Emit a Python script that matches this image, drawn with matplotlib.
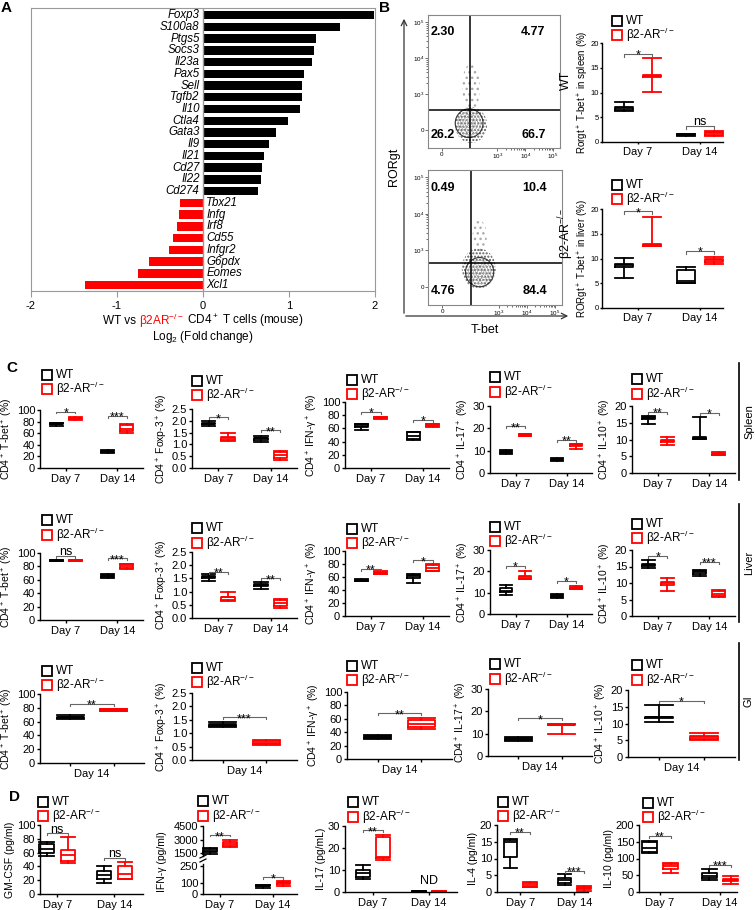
import numpy as np
import matplotlib.pyplot as plt
from matplotlib.patches import Ellipse

plt.rcParams['font.family'] = ['Liberation Sans', 'DejaVu Sans']
plt.rcParams['mathtext.fontset'] = 'custom'
plt.rcParams['mathtext.rm'] = 'Liberation Sans'
plt.rcParams['mathtext.it'] = 'Liberation Sans:italic'
plt.rcParams['mathtext.bf'] = 'Liberation Sans:bold'
plt.rcParams['axes.unicode_minus'] = False

W, H = 755, 910
RED = '#ff0000'
KO = r'β2-AR$^{-/-}$'

# ---------------- panel A: log2 fold change
genes = ['Foxp3', 'S100a8', 'Ptgs5', 'Socs3', 'Il23a', 'Pax5', 'Sell', 'Tgfb2',
         'Il10', 'Ctla4', 'Gata3', 'Il9', 'Il21', 'Cd27', 'Il22', 'Cd274',
         'Tbx21', 'Infg', 'Irf8', 'Cd55', 'Infgr2', 'G6pdx', 'Eomes', 'Xcl1']
log2fc = [1.99, 1.59, 1.31, 1.29, 1.27, 1.18, 1.15, 1.15, 1.13, 0.99, 0.85, 0.77,
          0.71, 0.69, 0.67, 0.64, -0.27, -0.28, -0.30, -0.35, -0.40, -0.63, -0.76, -1.37]

# ---------------- panel B: flow quadrants and Rorgt+ T-bet+ boxes
quad_wt = ['2.30', '4.77', '26.2', '66.7']
quad_ko = ['0.49', '10.4', '4.76', '84.4']
# box stats: (whislo, q1, med, q3, whishi); order WT d7, KO d7, WT d14, KO d14
rorgt_spleen = [(6.2, 6.5, 6.8, 7.0, 8.1), (10.2, 13.2, 13.3, 13.5, 16.9),
                (1.3, 1.4, 1.5, 1.6, 1.7), (1.2, 1.5, 1.8, 2.1, 2.2)]
rorgt_spleen_sig = [('*', 17.8), ('ns', 3.2)]
rorgt_liver = [(6.0, 8.3, 8.6, 8.9, 10.2), (12.5, 12.6, 12.8, 12.9, 18.4),
               (5.0, 5.0, 5.5, 7.7, 8.3), (8.8, 9.3, 9.6, 9.9, 10.4)]
rorgt_liver_sig = [('*', 19.5), ('*', 11.5)]

# ---------------- panel C
spleen_tbet = [(73, 75, 76, 77, 78), (82, 84, 86, 87, 87.5), (26, 27, 29, 30, 30.5), (61, 63, 68, 74, 76)]
spleen_tbet_sig = [('*', 97), ('***', 90)]
spleen_foxp3 = [(1.8, 1.85, 1.88, 1.92, 2.0), (1.15, 1.2, 1.25, 1.3, 1.48),
                (1.1, 1.2, 1.25, 1.28, 1.35), (0.35, 0.42, 0.55, 0.68, 0.7)]
spleen_foxp3_sig = [('*', 2.15), ('**', 1.6)]
spleen_ifng = [(57, 62, 64, 66, 66.5), (75, 75.5, 76, 77, 77.5), (42, 44, 48, 54, 55), (62, 63, 64, 66, 66.5)]
spleen_ifng_sig = [('*', 85), ('*', 73)]
spleen_il17 = [(8.3, 9.0, 9.5, 10.0, 10.3), (16.5, 16.7, 17.0, 17.3, 17.5),
               (5.5, 5.7, 6.0, 6.3, 6.5), (10.8, 12.0, 12.5, 13.0, 13.0)]
spleen_il17_sig = [('**', 21), ('**', 15)]
spleen_il10 = [(14.7, 16.0, 16.3, 16.7, 16.9), (8.5, 9.2, 9.7, 10.0, 10.7),
               (10.1, 10.2, 10.5, 10.7, 16.7), (5.3, 5.5, 5.8, 6.1, 6.3)]
spleen_il10_sig = [('**', 18.2), ('*', 17.9)]

liver_tbet = [(88, 88.3, 89, 89.7, 90), (88, 88.3, 89, 89.7, 90), (63, 64, 66, 67, 68), (76, 77, 80, 83, 84)]
liver_tbet_sig = [('ns', 96), ('***', 92)]
liver_foxp3 = [(1.42, 1.5, 1.55, 1.6, 1.68), (0.65, 0.7, 0.78, 0.8, 1.0),
               (1.1, 1.2, 1.25, 1.3, 1.38), (0.38, 0.45, 0.55, 0.68, 0.72)]
liver_foxp3_sig = [('**', 1.75), ('**', 1.5)]
liver_ifng = [(54, 54.5, 55, 56, 56.5), (64, 65, 66, 68, 68.5), (51, 59, 61, 63, 64), (69, 70, 74, 79, 80)]
liver_ifng_sig = [('**', 73), ('*', 86)]
liver_il17 = [(9.0, 10.5, 11.0, 12.0, 13.5), (16.3, 16.5, 17.5, 18.0, 20.3),
              (7.5, 8.0, 8.5, 9.0, 9.5), (11.5, 11.5, 12.0, 12.5, 13.0)]
liver_il17_sig = [('*', 22.5), ('*', 15.5)]
liver_il10 = [(14.5, 15.2, 15.5, 15.8, 17.0), (7.5, 9.5, 10.0, 10.2, 11.5),
              (12.2, 12.8, 13.2, 13.5, 13.8), (5.8, 6.0, 6.8, 7.5, 7.9)]
liver_il10_sig = [('*', 18.3), ('***', 16.5)]

# GI, Day 14 only: WT, KO
gi_tbet = [(64, 65, 66, 67, 69), (75, 76, 77, 78, 78.5)]
gi_tbet_sig = ('**', 86)
gi_foxp3 = [(1.25, 1.28, 1.32, 1.35, 1.4), (0.55, 0.6, 0.65, 0.72, 0.75)]
gi_foxp3_sig = ('***', 1.6)
gi_ifng = [(30, 31, 33, 35, 36), (45, 48, 52, 58, 61)]
gi_ifng_sig = ('**', 68)
gi_il17 = [(6.5, 7.0, 7.5, 8.0, 8.5), (10.0, 13.8, 14.0, 14.2, 14.5)]
gi_il17_sig = ('*', 16.8)
gi_il10 = [(10.5, 11.5, 11.8, 12.0, 15.5), (5.0, 5.5, 6.0, 6.3, 7.3)]
gi_il10_sig = ('*', 16.8)

# ---------------- panel D: cytokines (pg/ml)
gmcsf = [(55, 60, 65, 72, 76), (45, 48, 57, 64, 82), (16, 22, 28, 33, 40), (22, 22, 29, 40, 46)]
gmcsf_sig = [('ns', 88), ('ns', 52)]
ifng_d7 = [(1400, 1600, 1800, 2000, 2100), (2200, 2300, 2500, 2700, 3000)]
ifng_d14 = [(50, 70, 75, 80, 85), (70, 92, 100, 110, 115)]
ifng_sig = [('**', 3500), ('*', 150)]
il17_d = [(6.0, 7.0, 8.5, 10.0, 12.5), (14.5, 15.5, 16.0, 25.0, 26.0),
          (0.1, 0.1, 0.2, 0.3, 0.3), (0.1, 0.1, 0.2, 0.3, 0.3)]
il17_d_sig = [('**', 28)]
il4_d = [(7.2, 10.3, 14.8, 15.5, 15.8), (1.4, 1.5, 2.0, 2.8, 2.9), (2.2, 2.8, 3.5, 4.3, 5.3), (0.3, 1.0, 1.3, 1.6, 1.8)]
il4_d_sig = [('**', 18), ('***', 6.3)]
il10_d = [(115, 118, 130, 150, 152), (58, 68, 78, 85, 88), (36, 42, 48, 58, 68), (25, 32, 35, 38, 48)]
il10_d_sig = [('**', 168), ('***', 82)]

fig = plt.figure(figsize=(W / 100, H / 100), dpi=100)
ov = fig.add_axes([0, 0, 1, 1], zorder=10)
ov.set_xlim(0, W)
ov.set_ylim(H, 0)
ov.axis('off')


def px_axes(l, t, r, b):
    return fig.add_axes([l / W, 1 - b / H, (r - l) / W, (b - t) / H])


def draw_boxes(ax, stats, pos, width, lw=1.3):
    cols = ['k', RED] * (len(stats) // 2)
    for s, p, c in zip(stats, pos, cols):
        lo, q1, med, q3, hi = s
        d = dict(whislo=lo, q1=q1, med=med, q3=q3, whishi=hi, fliers=[])
        art = ax.bxp([d], positions=[p], widths=width, capwidths=width, showfliers=False,
                     boxprops=dict(color=c, lw=lw), whiskerprops=dict(color=c, lw=lw),
                     capprops=dict(color=c, lw=lw), medianprops=dict(color=c, lw=lw),
                     manage_ticks=False)
        for k in art.values():
            for a in k:
                a.set_clip_on(False)


def sig(ax, x1, x2, y, txt, drop, fs=9):
    ax.plot([x1, x1, x2, x2], [y - drop, y, y, y - drop], color='#666666', lw=0.8, clip_on=False)
    off = 0.5 if txt == 'ns' else -3.5
    ax.annotate(txt, xy=((x1 + x2) / 2, y), xytext=(0, off), textcoords='offset points',
                ha='center', va='baseline', fontsize=fs, annotation_clip=False)


def style(ax, yticks, ylabel, fmt='{:g}', lab_fs=8, ylab_fs=7.5, tick_len=2.5, lpad=1, tpad=1):
    for s in ['top', 'right']:
        ax.spines[s].set_visible(False)
    for s in ['left', 'bottom']:
        ax.spines[s].set_linewidth(1.0)
    ax.set_ylim(yticks[0], yticks[-1])
    ax.set_yticks(yticks)
    ax.set_yticklabels([fmt.format(v) for v in yticks])
    ax.tick_params(length=tick_len, width=1, labelsize=lab_fs, pad=tpad)
    ax.tick_params(axis='x', labelsize=8, pad=2)
    if ylabel:
        ax.set_ylabel(ylabel, fontsize=ylab_fs, labelpad=lpad)


def legend(x, y1, y2, fs=8.5):
    for yy, col, lab in [(y1, 'k', 'WT'), (y2, RED, KO)]:
        ov.plot([x], [yy], marker='s', ms=6.5, mfc='none', mec=col, mew=1.3)
        ov.text(x + 9, yy, lab, va='center', ha='left', fontsize=fs)


def two_day(box, stats, sigs, yticks, ylabel, fmt='{:g}', xlim=(0, 4), off=0.37, width=0.5,
            lab_fs=8, ylab_fs=7.5, tick_len=2.5, lpad=1, tpad=1, label_x=None):
    ax = px_axes(*box)
    pos = [1 - off, 1 + off, 3 - off, 3 + off]
    draw_boxes(ax, stats, pos, width)
    ax.set_xlim(*xlim)
    ax.set_xticks([1, 3])
    ax.set_xticklabels(['Day 7', 'Day 14'])
    style(ax, yticks, ylabel, fmt, lab_fs, ylab_fs, tick_len, lpad, tpad)
    if label_x is not None:
        ax.yaxis.set_label_coords(label_x, 0.5)
    drop = 0.03 * (yticks[-1] - yticks[0])
    for i, (txt, y) in enumerate(sigs):
        sig(ax, pos[2 * i], pos[2 * i + 1], y, txt, drop)
    return ax


def one_day(box, stats, s, yticks, ylabel, fmt='{:g}'):
    ax = px_axes(*box)
    draw_boxes(ax, stats, [1, 2], 0.62)
    ax.set_xlim(0.3, 2.7)
    ax.set_xticks([1, 2])
    ax.set_xticklabels(['', ''])
    ax.set_xticks([1.5], ['Day 14'], minor=True)
    style(ax, yticks, ylabel, fmt)
    ax.tick_params(axis='x', which='minor', length=0, labelsize=8, pad=4)
    sig(ax, 1, 2, s[1], s[0], 0.03 * (yticks[-1] - yticks[0]))
    return ax


# ================= panel A
axA = px_axes(31, 8, 375, 291)
ypos = np.arange(len(genes))
axA.barh(ypos, log2fc, height=0.72, color=['k' if v > 0 else RED for v in log2fc])
axA.set_xlim(-2, 2)
axA.set_ylim(len(genes) - 0.5, -0.6)
for yi, g, v in zip(ypos, genes, log2fc):
    if v > 0:
        axA.text(-0.04, yi, g, ha='right', va='center', style='italic', fontsize=8.3)
    else:
        axA.text(0.04, yi, g, ha='left', va='center', style='italic', fontsize=8.3)
axA.axvline(0, color='#999999', lw=1)
for sp in axA.spines.values():
    sp.set_color('#999999')
axA.set_yticks([])
axA.set_xticks([-2, -1, 0, 1, 2])
axA.tick_params(axis='x', length=4, color='#999999', labelsize=8, pad=3)

rend = fig.canvas.get_renderer()
pieces = [('WT vs ', 'k'), (r'β2AR$^{-/-}$', RED), (r' CD4$^+$ T cells (mouse)', 'k')]
txts = [ov.text(0, 321, s, color=c, fontsize=8.5, va='center') for s, c in pieces]
widths = [t.get_window_extent(rend).width for t in txts]
x0 = 203 - sum(widths) / 2
for t, w in zip(txts, widths):
    t.set_x(x0)
    x0 += w
ov.text(203, 337, r'Log$_2$ (Fold change)', ha='center', va='center', fontsize=8.5)

# ================= panel B flow
flow_boxes = [(428, 15, 560, 148), (428, 170, 562, 305)]
flow_quads = [quad_wt, quad_ko]
flow_gate = [(2.01, 2.56), (2.01, 2.65)]
# cloud (cx, cy, w, h), tail (cx, cy, w, h), contour centre
flow_cloud = [((2.05, 2.14, 1.15, 1.0), (2.05, 3.2, 0.65, 1.3), (1.98, 2.19)),
              ((2.3, 2.5, 1.2, 1.1), (2.33, 3.37, 0.5, 0.9), (2.33, 2.4))]
contour_w = [1.0, 0.8, 0.62, 0.45, 0.3, 0.15]
for box, quads, gate, cloud in zip(flow_boxes, flow_quads, flow_gate, flow_cloud):
    ax = px_axes(*box)
    ax.set_xlim(0.5, 5.25)
    ax.set_ylim(1.5, 5.2)
    for sp in ax.spines.values():
        sp.set_color('#888888')
        sp.set_linewidth(0.8)
    (cx, cy, cw, ch), (tx, ty, tw, th), (kx, ky) = cloud
    ax.add_patch(Ellipse((tx, ty), tw, th, facecolor='none', edgecolor='#aaaaaa', hatch='...', lw=0))
    ax.add_patch(Ellipse((cx, cy), cw, ch, facecolor='none', edgecolor='#555555', hatch='.....', lw=0))
    for i, w in enumerate(contour_w):
        ax.add_patch(Ellipse((kx, ky), w, w * 0.8, facecolor='none',
                             edgecolor='#333333' if i == 0 else '#aaaaaa', lw=0.8 if i == 0 else 0.6))
    ax.axvline(gate[0], color='k', lw=1.1)
    ax.axhline(gate[1], color='k', lw=1.1)
    kw = dict(transform=ax.transAxes, fontsize=9, fontweight='bold', va='center')
    ax.text(0.02, 0.87, quads[0], ha='left', **kw)
    ax.text(0.89, 0.87, quads[1], ha='right', **kw)
    ax.text(0.02, 0.1, quads[2], ha='left', **kw)
    ax.text(0.89, 0.1, quads[3], ha='right', **kw)
    ax.set_yticks([2, 3, 4, 5])
    ax.set_yticklabels(['0', r'10$^3$', r'10$^4$', r'10$^5$'])
    ax.set_xticks([1, 3, 4, 5])
    ax.set_xticklabels(['0', r'10$^3$', r'10$^4$', r'10$^5$'])
    minor = np.concatenate([np.log10(np.arange(2, 10)) + d for d in (3, 4)])
    ax.set_yticks(minor, minor=True)
    ax.set_xticks(minor, minor=True)
    ax.tick_params(which='both', labelsize=4.5, length=2, width=0.6, color='#555555', pad=1)
    ax.tick_params(which='minor', length=1.2)

ov.annotate('', xy=(404, 16), xytext=(404, 316),
            arrowprops=dict(arrowstyle='->', lw=0.9, color='#333333', mutation_scale=10))
ov.annotate('', xy=(571, 316), xytext=(403, 316),
            arrowprops=dict(arrowstyle='->', lw=0.9, color='#333333', mutation_scale=10))
ov.text(394, 167, 'RORgt', rotation=90, ha='center', va='center', fontsize=9)
ov.text(485, 330, 'T-bet', ha='center', va='center', fontsize=9)
ov.text(566, 80, 'WT', rotation=90, ha='center', va='center', fontsize=9)
ov.text(566, 233, KO, rotation=90, ha='center', va='center', fontsize=9)

# panel B boxes
bx = dict(xlim=(-0.16, 3.74), off=0.45, width=0.6, lab_fs=5.5, ylab_fs=7, tick_len=1.5,
          tpad=0.5, label_x=-0.095)
two_day((602, 43, 723, 142), rorgt_spleen, rorgt_spleen_sig, [0, 5, 10, 15, 20],
        r'Rorgt$^+$ T-bet$^+$ in spleen (%)', **bx)
legend(617, 21, 35)
two_day((602, 209, 723, 308), rorgt_liver, rorgt_liver_sig, [0, 5, 10, 15, 20],
        r'RORgt$^+$ T-bet$^+$ in liver (%)', **bx)
legend(617, 185, 199)

# ================= panel C
ylab_tbet = r'CD4$^+$ T-bet$^+$ (%)'
ylab_foxp3 = r'CD4$^+$ Foxp-3$^+$ (%)'
ylab_ifng = r'CD4$^+$ IFN-γ$^+$ (%)'
ylab_il17 = r'CD4$^+$ IL-17$^+$ (%)'
ylab_il10 = r'CD4$^+$ IL-10$^+$ (%)'
t100 = [0, 20, 40, 60, 80, 100]
t25 = [0, 0.5, 1.0, 1.5, 2.0, 2.5]
t30 = [0, 10, 20, 30]
t20 = [0, 5, 10, 15, 20]

col_x = [(40, 143), (192, 297), (345, 449), (490, 592), (632, 735)]
leg_x = [47, 197, 352, 495, 637]
row_panels = [
    [(spleen_tbet, spleen_tbet_sig, t100, ylab_tbet, '{:g}'),
     (spleen_foxp3, spleen_foxp3_sig, t25, ylab_foxp3, '{:.1f}'),
     (spleen_ifng, spleen_ifng_sig, t100, ylab_ifng, '{:g}'),
     (spleen_il17, spleen_il17_sig, t30, ylab_il17, '{:g}'),
     (spleen_il10, spleen_il10_sig, t20, ylab_il10, '{:g}')],
    [(liver_tbet, liver_tbet_sig, t100, ylab_tbet, '{:g}'),
     (liver_foxp3, liver_foxp3_sig, t25, ylab_foxp3, '{:.1f}'),
     (liver_ifng, liver_ifng_sig, t100, ylab_ifng, '{:g}'),
     (liver_il17, liver_il17_sig, t30, ylab_il17, '{:g}'),
     (liver_il10, liver_il10_sig, t20, ylab_il10, '{:g}')],
]
row_y = [[(410, 468), (409, 468), (402, 468), (406, 473), (406, 473)],
         [(553, 620), (552, 618), (551, 616), (550, 614), (550, 616)]]
row_leg = [[(375, 389), (381, 395), (380, 394), (377, 392), (379, 394)],
           [(520, 535), (528, 543), (529, 543), (527, 541), (524, 538)]]
for panels, ys, legs in zip(row_panels, row_y, row_leg):
    for (stats, sg, yt, yl, fmt), (l, r), (t, b), lx, (l1, l2) in zip(panels, col_x, ys, leg_x, legs):
        two_day((l, t, r, b), stats, sg, yt, yl, fmt)
        legend(lx, l1, l2)

gi_panels = [(gi_tbet, gi_tbet_sig, t100, ylab_tbet, '{:g}'),
             (gi_foxp3, gi_foxp3_sig, t25, ylab_foxp3, '{:.1f}'),
             (gi_ifng, gi_ifng_sig, t100, ylab_ifng, '{:g}'),
             (gi_il17, gi_il17_sig, t30, ylab_il17, '{:g}'),
             (gi_il10, gi_il10_sig, t20, ylab_il10, '{:g}')]
gi_x = [(40, 144), (192, 297), (347, 452), (488, 592), (628, 735)]
gi_y = [(694, 763), (693, 760), (692, 759), (689, 756), (690, 757)]
gi_leg = [(671, 685), (668, 682), (666, 680), (664, 679), (665, 680)]
for (stats, sg, yt, yl, fmt), (l, r), (t, b), lx, (l1, l2) in zip(gi_panels, gi_x, gi_y, leg_x, gi_leg):
    one_day((l, t, r, b), stats, sg, yt, yl, fmt)
    legend(lx, l1, l2)

# side labels
for lab, y0, y1 in [('Spleen', 363, 480), ('Liver', 504, 622), ('GI', 643, 760)]:
    ov.plot([739, 739], [y0, y1], color='k', lw=1.2)
    ov.text(749, (y0 + y1) / 2, lab, rotation=90, ha='center', va='center', fontsize=8)

# ================= panel D
two_day((40, 825, 143, 894), gmcsf, gmcsf_sig, t100, 'GM-CSF (pg/ml)', xlim=(0.4, 4.0))
legend(43, 802, 816)

axT = px_axes(203, 826, 297, 856)
axB = px_axes(203, 864, 297, 894)
offD = 0.38
draw_boxes(axT, ifng_d7, [1 - offD, 1 + offD], 0.5)
draw_boxes(axB, ifng_d14, [3 - offD, 3 + offD], 0.5)
for a in (axT, axB):
    a.set_xlim(0.36, 3.9)
    for s in ['top', 'right']:
        a.spines[s].set_visible(False)
    a.spines['left'].set_linewidth(1.0)
    a.spines['bottom'].set_linewidth(1.0)
    a.tick_params(length=2.5, width=1, labelsize=8, pad=1)
axT.spines['bottom'].set_visible(False)
axT.set_xticks([])
axT.set_ylim(1200, 4500)
axT.set_yticks([1500, 3000, 4500])
axB.set_ylim(0, 270)
axB.set_yticks([0, 100, 250])
axB.set_xticks([1, 3])
axB.set_xticklabels(['Day 7', 'Day 14'])
axB.tick_params(axis='x', labelsize=8, pad=2)
sig(axT, 1 - offD, 1 + offD, ifng_sig[0][1], ifng_sig[0][0], 150)
sig(axB, 3 - offD, 3 + offD, ifng_sig[1][1], ifng_sig[1][0], 12)
ov.plot([200, 206], [858, 855], color='k', lw=0.9)
ov.plot([200, 206], [862, 859], color='k', lw=0.9)
ov.text(162, 862, 'IFN-γ (pg/ml)', rotation=90, ha='center', va='center', fontsize=7.5)
legend(203, 801, 816)

axD3 = two_day((345, 826, 457, 892), il17_d, il17_d_sig, t30, 'IL-17 (pg/mL)')
axD3.text(3, 2.5, 'ND', ha='center', va='bottom', fontsize=9)
legend(353, 802, 817)
two_day((497, 825, 588, 892), il4_d, il4_d_sig, t20, 'IL-4 (pg/ml)', xlim=(0.15, 3.5), off=0.36)
legend(503, 802, 816)
two_day((639, 825, 737, 892), il10_d, il10_d_sig, [0, 50, 100, 150, 200], 'IL-10 (pg/ml)',
        xlim=(0.3, 3.57), off=0.36)
legend(648, 803, 817)

# panel letters
for lab, x, y in [('A', 6, 8), ('B', 385, 8), ('C', 12, 368), ('D', 14, 797)]:
    ov.text(x, y, lab, fontsize=11, fontweight='bold', ha='center', va='center')

fig.savefig('out.png', dpi=100)
